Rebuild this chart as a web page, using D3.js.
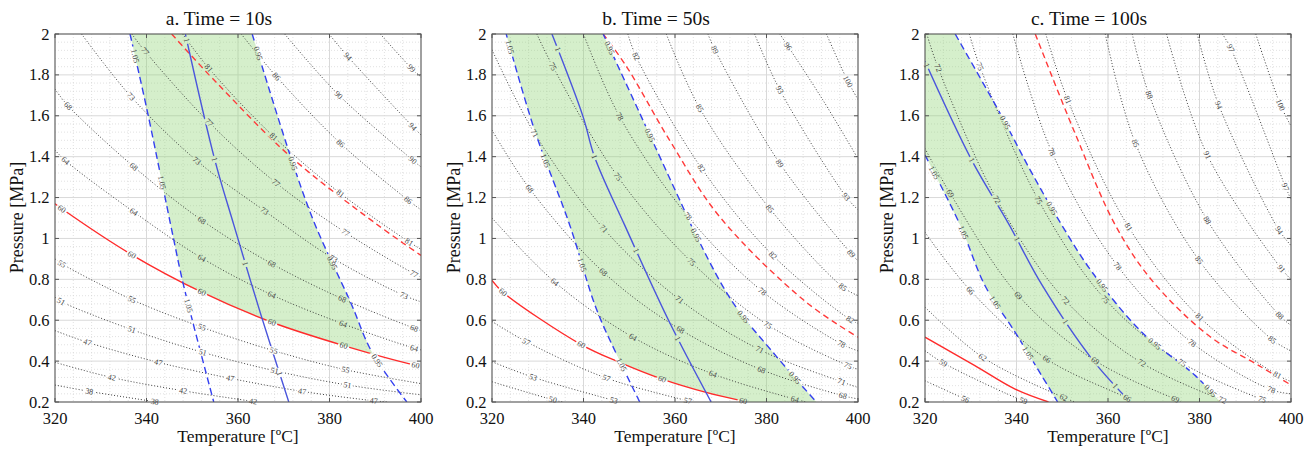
<!DOCTYPE html>
<html>
<head>
<meta charset="utf-8">
<script src="https://cdn.jsdelivr.net/npm/d3@7"></script>
<style>
  body { margin: 0; background: #fff; }
  svg { font-family: "Liberation Serif", "Times New Roman", serif; }
</style>
</head>
<body>
<svg id="chart" width="1314" height="450"></svg>
<script>
// axes
const tempTicks = [320, 340, 360, 380, 400];
const pressTicks = [0.2, 0.4, 0.6, 0.8, 1, 1.2, 1.4, 1.6, 1.8, 2];
const titles = ["a. Time = 10s", "b. Time = 50s", "c. Time = 100s"];

// ---- a. Time = 10s : black dotted contours (temperature, pressure) + label positions
const contoursA = [
  {v: "99", pts: [[391.1,2.0],[397.9,1.833],[400,1.79]], at: [397.9]},
  {v: "94", pts: [[379.9,2.0],[384.0,1.89],[398.2,1.547],[400,1.506]], at: [384.0,398.2]},
  {v: "90", pts: [[370.2,2.0],[382.0,1.702],[398.2,1.383],[400,1.35]], at: [382.0,398.2]},
  {v: "86", pts: [[360.7,2.0],[368.4,1.792],[382.4,1.465],[397.2,1.187],[400,1.14]], at: [368.4,382.4,397.2]},
  {v: "81", pts: [[347.9,2.0],[353.6,1.833],[367.8,1.498],[382.4,1.22],[397.4,0.983],[400,0.947]], at: [353.6,367.8,382.4,397.4]},
  {v: "77", pts: [[336.8,2.0],[339.7,1.915],[353.7,1.567],[368.3,1.272],[383.5,1.029],[398.5,0.827],[400,0.81]], at: [339.7,353.7,368.3,383.5,398.5]},
  {v: "73", pts: [[325.8,2.0],[336.6,1.694],[351.0,1.38],[365.8,1.135],[380.9,0.901],[396.3,0.721],[400,0.69]], at: [336.6,351.0,365.8,380.9,396.3]},
  {v: "68", pts: [[320,1.73],[322.9,1.648],[337.2,1.351],[352.1,1.089],[367.4,0.876],[382.8,0.705],[398.5,0.561],[400,0.55]], at: [322.9,337.2,352.1,367.4,382.8,398.5]},
  {v: "64", pts: [[320,1.432],[322.3,1.38],[337.2,1.13],[352.1,0.904],[367.4,0.724],[383.0,0.582],[398.5,0.463],[400,0.455]], at: [322.3,337.2,352.1,367.4,383.0,398.5]},
  {v: "55", pts: [[320,0.9],[321.5,0.876],[336.8,0.701],[352.1,0.566],[367.8,0.451],[383.5,0.358],[400,0.29]], at: [321.5,336.8,352.1,367.8,383.5]},
  {v: "51", pts: [[320,0.713],[321.3,0.692],[336.8,0.554],[352.3,0.443],[368.0,0.353],[383.9,0.283],[400,0.235]], at: [321.3,336.8,352.3,368.0,383.9]},
  {v: "47", pts: [[320,0.549],[327.1,0.492],[342.6,0.394],[358.3,0.316],[374.0,0.252],[389.7,0.206],[392.6,0.2]], at: [327.1,342.6,358.3,374.0,389.7]},
  {v: "42", pts: [[320,0.394],[332.4,0.32],[348.0,0.255],[364.2,0.2]], at: [332.4,348.0,363.3]},
  {v: "38", pts: [[320,0.283],[327.5,0.252],[342.3,0.2]], at: [327.5,341.8]}
];
const redA = {v: "60", pts: [[320,1.17],[321.5,1.145],[336.8,0.92],[352.1,0.737],[367.4,0.59],[383.1,0.476],[398.8,0.38],[400,0.375]], at: [321.5,336.8,352.1,367.4,383.1,398.8]};
const redDashA = {v: "", pts: [[345.5,2.0],[355.4,1.76],[371.5,1.4],[390.1,1.073],[400,0.917]], at: []};
const blue105A = {v: "1.05", pts: [[336.4,2.0],[340.1,1.63],[345.9,1.0],[348.0,0.78],[354.7,0.2]], at: [337.5,343.4,349.2]};
const blue1A = {v: "1", pts: [[348.5,2.0],[354.9,1.387],[359.1,1.065],[365.1,0.62],[371.1,0.2]], at: [348.8,354.9,361.6,369.1]};
const blue095A = {v: "0.95", pts: [[363.1,2.0],[371.5,1.4],[376.9,1.065],[384.6,0.688],[389.3,0.443],[396.9,0.2]], at: [364.4,372.0,380.6,390.4]};

// ---- b. Time = 50s
const contoursB = [
  {v: "100", pts: [[393.1,2.0],[397.8,1.768],[400,1.68]], at: [397.8]},
  {v: "96", pts: [[382.9,2.0],[384.7,1.94],[392.3,1.678],[400,1.39]], at: [384.7]},
  {v: "93", pts: [[377.4,2.0],[382.9,1.727],[397.4,1.204],[400,1.14]], at: [382.9,397.4]},
  {v: "89", pts: [[367.2,2.0],[368.7,1.923],[382.9,1.367],[398.5,0.926],[400,0.89]], at: [368.7,382.9,398.5]},
  {v: "85", pts: [[358.1,2.0],[365.4,1.637],[380.7,1.146],[396.7,0.762],[400,0.72]], at: [365.4,380.7,396.7]},
  {v: "82", pts: [[349.7,2.0],[351.5,1.89],[365.8,1.343],[381.4,0.917],[398.3,0.603],[400,0.585]], at: [351.5,365.8,381.4,398.3]},
  {v: "78", pts: [[340,2.0],[347.9,1.596],[362.8,1.109],[379.1,0.741],[396.4,0.484],[400,0.45]], at: [347.9,362.8,379.1,396.4]},
  {v: "75", pts: [[329.8,2.0],[333.3,1.841],[347.5,1.302],[363.6,0.885],[380.3,0.577],[397.8,0.378],[400,0.36]], at: [333.3,347.5,363.6,380.3,397.8]},
  {v: "71", pts: [[320,1.923],[329.3,1.514],[344.4,1.048],[361.0,0.701],[378.5,0.456],[396.4,0.299],[400,0.271]], at: [329.3,344.4,361.0,378.5,396.4]},
  {v: "68", pts: [[320,1.53],[328.2,1.244],[344.3,0.836],[361.2,0.554],[378.9,0.358],[396.7,0.231],[400,0.215]], at: [328.2,344.3,361.2,378.9,396.7]},
  {v: "64", pts: [[320,1.1],[333.7,0.787],[350.8,0.517],[368.3,0.337],[386.2,0.214],[388.7,0.2]], at: [333.7,350.8,368.3,386.2]},
  {v: "57", pts: [[320,0.594],[327.5,0.495],[345.0,0.317],[363.9,0.2]], at: [327.5,345.0,362.8]},
  {v: "53", pts: [[320,0.397],[329,0.321],[347.9,0.2]], at: [329.0,346.6]},
  {v: "50", pts: [[320,0.299],[333.3,0.211],[335.5,0.2]], at: [333.3]}
];
const redB = {v: "60", pts: [[320,0.795],[322.4,0.737],[339.5,0.481],[347.9,0.394],[357.2,0.312],[366.8,0.247],[375.9,0.2]], at: [322.4,339.5,357.2,374.9]};
const redDashB = {v: "", pts: [[344.3,2.0],[349.4,1.841],[358.8,1.481],[369.8,1.105],[388.7,0.688],[400,0.517]], at: []};
const blue105B = {v: "1.05", pts: [[323.1,2.0],[329.3,1.53],[337.0,1.065],[342.8,0.656],[347.9,0.402],[352.3,0.2]], at: [323.9,331.7,339.7,348.3]};
const blue1B = {v: "1", pts: [[333.1,2.0],[339.9,1.596],[342.4,1.4],[349.0,1.065],[358.8,0.59],[367.9,0.2]], at: [334.4,342.4,351.5,360.6]};
const blue095B = {v: "0.95", pts: [[344.3,2.0],[352.3,1.612],[360.7,1.204],[364.6,1.016],[372.6,0.688],[381.4,0.443],[390.9,0.2]], at: [345.7,354.5,364.6,374.9,386.2]};

// ---- c. Time = 100s
const contoursC = [
  {v: "100", pts: [[392.3,2.0],[397.7,1.653],[400,1.55]], at: [397.7]},
  {v: "97", pts: [[385.0,2.0],[386.8,1.931],[398.8,1.252],[400,1.19]], at: [386.8,398.8]},
  {v: "94", pts: [[379.5,2.0],[384.2,1.653],[397.4,1.04],[400,0.966]], at: [384.2,397.4]},
  {v: "91", pts: [[372.8,2.0],[381.7,1.408],[397.9,0.852],[400,0.80]], at: [381.7,397.9]},
  {v: "88", pts: [[365.3,2.0],[369.0,1.702],[381.7,1.089],[397.5,0.623],[400,0.575]], at: [369.0,381.7,397.5]},
  {v: "85", pts: [[359.4,2.0],[366.0,1.465],[379.9,0.893],[395.9,0.505],[400,0.45]], at: [366.0,379.9,395.9]},
  {v: "81", pts: [[346.4,2.0],[351.2,1.678],[364.5,1.056],[380.0,0.615],[397.0,0.332],[400,0.3]], at: [351.2,364.5,380.0,397.0]},
  {v: "78", pts: [[339.2,2.0],[347.7,1.424],[362.1,0.865],[378.4,0.489],[395.7,0.26],[400,0.24]], at: [347.7,362.1,378.4,395.7]},
  {v: "75", pts: [[329.7,2.0],[332.0,1.841],[344.8,1.187],[359.4,0.702],[376.2,0.391],[395.2,0.2]], at: [332.0,344.8,359.4,376.2,393.7]},
  {v: "72", pts: [[320.4,2.0],[322.9,1.833],[335.7,1.19],[350.7,0.697],[367.4,0.391],[386.1,0.2]], at: [322.9,335.7,350.7,367.4,385.0]},
  {v: "69", pts: [[320,1.44],[325.5,1.22],[340.4,0.721],[357.2,0.402],[374.7,0.214],[376.2,0.2]], at: [325.5,340.4,357.2,374.7]},
  {v: "66", pts: [[320,1.03],[329.9,0.746],[346.6,0.41],[364.2,0.218],[365.3,0.2]], at: [329.9,346.6,364.2]},
  {v: "62", pts: [[320,0.664],[332.6,0.419],[350.3,0.222],[352.8,0.2]], at: [332.6,350.3]},
  {v: "59", pts: [[320,0.451],[324,0.391],[341.5,0.206],[342.6,0.2]], at: [324.0,341.5]},
  {v: "56", pts: [[320,0.304],[328.8,0.214],[330.2,0.2]], at: [328.8]}
];
const redC = {v: "60", pts: [[320,0.517],[330.9,0.378],[339.7,0.263],[347.0,0.2]], at: []};
const redDashC = {v: "", pts: [[344.1,2.0],[352.8,1.514],[361.6,1.065],[369.6,0.795],[382.0,0.525],[393.0,0.378],[400,0.283]], at: []};
const blue105C = {v: "1.05", pts: [[320,1.408],[327.7,1.065],[333.1,0.77],[339.7,0.541],[345.5,0.329],[349.0,0.2]], at: [322.0,328.4,335.3,342.5]};
const blue1C = {v: "1", pts: [[320,1.866],[330.2,1.383],[338.2,1.075],[345.5,0.775],[356.5,0.41],[364.9,0.2]], at: [320.4,330.2,340.1,350.7,361.6]};
const blue095C = {v: "0.95", pts: [[326.6,2.0],[336.8,1.596],[343.4,1.318],[349.9,1.065],[356.5,0.836],[367.4,0.541],[379.1,0.329],[384.6,0.2]], at: [337.5,347.7,358.7,370.2,382.4]};

const panels = [
  {left: 55,  contours: contoursA, red: redA, redDash: redDashA, b105: blue105A, b1: blue1A, b095: blue095A},
  {left: 492, contours: contoursB, red: redB, redDash: redDashB, b105: blue105B, b1: blue1B, b095: blue095B},
  {left: 925, contours: contoursC, red: redC, redDash: redDashC, b105: blue105C, b1: blue1C, b095: blue095C}
];

const W = 366, H = 368, TOP = 34;
const svg = d3.select("#chart");
const defs = svg.append("defs");

// find the point of a path at a given x, plus its direction
function locate(node, px) {
  const len = node.getTotalLength();
  let lo = 0, hi = len;
  for (let k = 0; k < 32; k++) {
    const mid = (lo + hi) / 2;
    if (node.getPointAtLength(mid).x < px) lo = mid; else hi = mid;
  }
  const p = node.getPointAtLength(lo);
  const a = node.getPointAtLength(Math.max(0, lo - 3));
  const b = node.getPointAtLength(Math.min(len, lo + 3));
  return {x: p.x, y: p.y, ang: Math.atan2(b.y - a.y, b.x - a.x) * 180 / Math.PI};
}

panels.forEach((p, i) => {
  const x = d3.scaleLinear().domain([320, 400]).range([0, W]);
  const y = d3.scaleLinear().domain([0.2, 2]).range([H, 0]);
  const curve = d3.line().x(d => x(d[0])).y(d => y(d[1])).curve(d3.curveCatmullRom.alpha(0.5));

  const g = svg.append("g").attr("transform", `translate(${p.left},${TOP})`);

  defs.append("clipPath").attr("id", "plot" + i)
    .append("rect").attr("width", W).attr("height", H);

  // grid: minor dotted, major solid
  const grid = g.append("g");
  const minorT = d3.range(80, 101).filter(k => k % 5 !== 0).map(k => k * 4);
  const minorP = d3.range(5, 51).filter(k => k % 5 !== 0).map(k => k * 0.04);
  grid.selectAll(".mx").data(minorT).enter().append("line")
    .attr("x1", d => x(d)).attr("x2", d => x(d)).attr("y1", 0).attr("y2", H)
    .attr("stroke", "#d4d4d4").attr("stroke-width", 0.7).attr("stroke-dasharray", "1,2");
  grid.selectAll(".my").data(minorP).enter().append("line")
    .attr("y1", d => y(d)).attr("y2", d => y(d)).attr("x1", 0).attr("x2", W)
    .attr("stroke", "#d4d4d4").attr("stroke-width", 0.7).attr("stroke-dasharray", "1,2");
  grid.selectAll(".gx").data(tempTicks).enter().append("line")
    .attr("x1", d => x(d)).attr("x2", d => x(d)).attr("y1", 0).attr("y2", H)
    .attr("stroke", "#d9d9d9").attr("stroke-width", 1);
  grid.selectAll(".gy").data(pressTicks).enter().append("line")
    .attr("y1", d => y(d)).attr("y2", d => y(d)).attr("x1", 0).attr("x2", W)
    .attr("stroke", "#d9d9d9").attr("stroke-width", 1);

  // green feasible band: right of 1.05, left of 0.95, above red
  const px = pts => pts.map(d => [x(d[0]), y(d[1])]);
  const upperRight = pts => {
    const q = px(pts), f = q[0], l = q[q.length - 1];
    return curve(pts) + `L${W + 1000},${l[1]}L${W + 1000},-1000L${f[0]},-1000Z`;
  };
  const lowerLeft = pts => {
    const q = px(pts), f = q[0], l = q[q.length - 1];
    return curve(pts) + `L${l[0]},${H + 1000}L-1000,${H + 1000}L-1000,${f[1]}Z`;
  };
  defs.append("clipPath").attr("id", "c105_" + i).append("path").attr("d", upperRight(p.b105.pts));
  defs.append("clipPath").attr("id", "c095_" + i).append("path").attr("d", lowerLeft(p.b095.pts));
  defs.append("clipPath").attr("id", "cred_" + i).append("path").attr("d", upperRight(p.red.pts));
  g.append("g").attr("clip-path", `url(#plot${i})`)
    .append("g").attr("clip-path", `url(#c105_${i})`)
    .append("g").attr("clip-path", `url(#c095_${i})`)
    .append("g").attr("clip-path", `url(#cred_${i})`)
    .append("rect").attr("width", W).attr("height", H)
    .attr("fill", "rgb(144,214,118)").attr("fill-opacity", 0.38);

  // lines (masked around labels)
  const mask = defs.append("mask").attr("id", "mask" + i)
    .attr("maskUnits", "userSpaceOnUse")
    .attr("x", -20).attr("y", -20).attr("width", W + 40).attr("height", H + 40);
  mask.append("rect").attr("x", -20).attr("y", -20).attr("width", W + 40).attr("height", H + 40).attr("fill", "#fff");

  const lines = g.append("g").attr("clip-path", `url(#plot${i})`)
    .append("g").attr("mask", `url(#mask${i})`);

  const styled = [];
  p.contours.forEach(c => styled.push({c, stroke: "#2b2b2b", w: 0.9, dash: "1,2"}));
  styled.push({c: p.red, stroke: "#ff2b2b", w: 1.4, dash: null});
  styled.push({c: p.redDash, stroke: "#ff3a3a", w: 1.4, dash: "6,4"});
  styled.push({c: p.b105, stroke: "#3440f0", w: 1.4, dash: "7,4"});
  styled.push({c: p.b1, stroke: "#4a55dc", w: 1.4, dash: null});
  styled.push({c: p.b095, stroke: "#3440f0", w: 1.4, dash: "7,4"});

  const labels = g.append("g");
  styled.forEach(s => {
    const path = lines.append("path")
      .attr("d", curve(s.c.pts))
      .attr("fill", "none")
      .attr("stroke", s.stroke)
      .attr("stroke-width", s.w)
      .attr("stroke-dasharray", s.dash);
    const node = path.node();
    s.c.at.forEach(t => {
      const loc = locate(node, x(t));
      const tw = s.c.v.length * 4.2 + 3;
      mask.append("rect")
        .attr("x", -tw / 2).attr("y", -3.5).attr("width", tw).attr("height", 7)
        .attr("transform", `translate(${loc.x},${loc.y}) rotate(${loc.ang})`)
        .attr("fill", "#000");
      labels.append("text")
        .attr("transform", `translate(${loc.x},${loc.y}) rotate(${loc.ang})`)
        .attr("text-anchor", "middle")
        .attr("dy", "0.33em")
        .style("font-size", "8px")
        .attr("fill", "#444")
        .text(s.c.v);
    });
  });

  // frame and inward ticks
  g.append("rect").attr("width", W).attr("height", H)
    .attr("fill", "none").attr("stroke", "#555").attr("stroke-width", 1);
  const tk = g.append("g").attr("stroke", "#555").attr("stroke-width", 1);
  tempTicks.forEach(t => {
    tk.append("line").attr("x1", x(t)).attr("x2", x(t)).attr("y1", H).attr("y2", H - 4);
    tk.append("line").attr("x1", x(t)).attr("x2", x(t)).attr("y1", 0).attr("y2", 4);
  });
  pressTicks.forEach(v => {
    tk.append("line").attr("y1", y(v)).attr("y2", y(v)).attr("x1", 0).attr("x2", 4);
    tk.append("line").attr("y1", y(v)).attr("y2", y(v)).attr("x1", W).attr("x2", W - 4);
  });

  // tick labels
  g.selectAll(".xt").data(tempTicks).enter().append("text")
    .attr("x", d => x(d)).attr("y", H + 21.5)
    .attr("text-anchor", "middle")
    .style("font-size", "16.5px").attr("fill", "#111")
    .text(d => d);
  g.selectAll(".yt").data(pressTicks).enter().append("text")
    .attr("x", -5.5).attr("y", d => y(d)).attr("dy", "0.34em")
    .attr("text-anchor", "end")
    .style("font-size", "16.5px").attr("fill", "#111")
    .text(d => d3.format("~g")(d));

  // axis titles
  g.append("text")
    .attr("x", W / 2).attr("y", H + 40)
    .attr("text-anchor", "middle")
    .style("font-size", "17.5px").attr("fill", "#111")
    .text("Temperature [ºC]");
  g.append("text")
    .attr("transform", `translate(-32,${H / 2 - 0.5}) rotate(-90)`)
    .attr("text-anchor", "middle")
    .style("font-size", "18px").attr("fill", "#111")
    .text("Pressure [MPa]");

  // title
  g.append("text")
    .attr("x", W / 2 - 19).attr("y", -9.5)
    .attr("text-anchor", "middle")
    .style("font-size", "19.5px").attr("fill", "#111")
    .text(titles[i]);
});
</script>
</body>
</html>
